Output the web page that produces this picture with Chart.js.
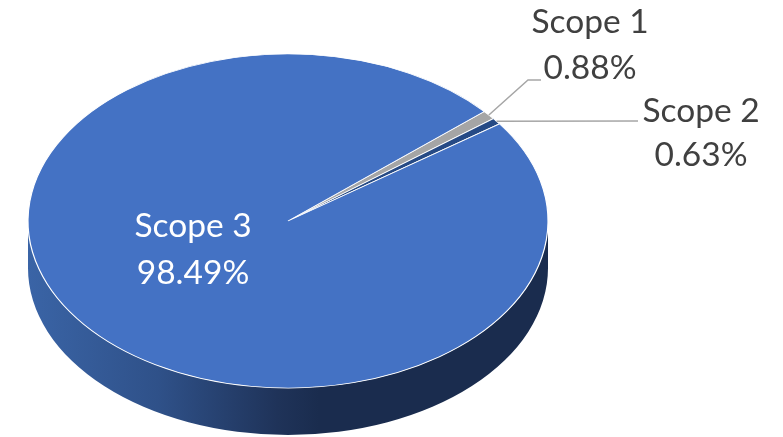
<!DOCTYPE html>
<html>
<head>
<meta charset="utf-8">
<title>Emissions by scope</title>
<style>
  html, body { margin: 0; padding: 0; background: #fff; }
  canvas { display: block; }
</style>
<script src="https://cdn.jsdelivr.net/npm/chart.js@4"></script>
</head>
<body>
<canvas id="scopePie" width="783" height="437"></canvas>
<script>
const categories = ["Scope 1", "Scope 2", "Scope 3"];
const shares = [0.88, 0.63, 98.49];
const shareLabels = ["0.88%", "0.63%", "98.49%"];
const sliceColors = ["#A5A5A5", "#264A85", "#4472C4"];

// label anchors: [centre x, first baseline, second baseline]
const labelSpots = [
  [590, 33, 79],
  [701, 122, 166],
  [193, 237, 284],
];
const labelColors = ["#404040", "#404040", "#ffffff"];
// where the leader lines bend / end, null = no leader
const leaderPaths = [
  [[528, 80], [541, 80]],
  [[638, 121]],
  null,
];

const SQUASH = 167 / 260; // tilt of the pie top
const DEPTH = 47;

const tiltPlugin = {
  id: "tilt",
  beforeDatasetsDraw(chart) {
    const ctx = chart.ctx;
    const arc = chart.getDatasetMeta(0).data[0];
    const r = arc.outerRadius;
    const ry = r * SQUASH;

    // side wall of the disc
    const grad = ctx.createLinearGradient(arc.x - r, 0, arc.x + r, 0);
    grad.addColorStop(0, "#3A64A6");
    grad.addColorStop(0.25, "#2F5189");
    grad.addColorStop(0.48, "#1F3359");
    grad.addColorStop(0.56, "#1A2C4E");
    grad.addColorStop(1, "#1A2C4E");
    ctx.save();
    ctx.beginPath();
    ctx.ellipse(arc.x, arc.y + DEPTH, r, ry, 0, 0, Math.PI);
    ctx.lineTo(arc.x - r, arc.y);
    ctx.ellipse(arc.x, arc.y, r, ry, 0, Math.PI, 0, true);
    ctx.closePath();
    ctx.fillStyle = grad;
    ctx.fill();
    ctx.restore();

    ctx.save();
    ctx.translate(arc.x, arc.y);
    ctx.scale(1, SQUASH);
    ctx.translate(-arc.x, -arc.y);
  },
  afterDatasetsDraw(chart) {
    const ctx = chart.ctx;
    ctx.restore();

    const arcs = chart.getDatasetMeta(0).data;
    // leader lines
    ctx.save();
    ctx.strokeStyle = "#A6A6A6";
    ctx.lineWidth = 1.5;
    leaderPaths.forEach((path, i) => {
      if (!path) return;
      const a = arcs[i];
      const mid = (a.startAngle + a.endAngle) / 2;
      ctx.beginPath();
      ctx.moveTo(a.x + a.outerRadius * Math.cos(mid), a.y + a.outerRadius * SQUASH * Math.sin(mid));
      path.forEach((p) => ctx.lineTo(p[0], p[1]));
      ctx.stroke();
    });
    ctx.restore();

    // labels
    ctx.save();
    ctx.font = '33.5px Lato, "Open Sans", sans-serif';
    ctx.textAlign = "center";
    ctx.textBaseline = "alphabetic";
    categories.forEach((name, i) => {
      const spot = labelSpots[i];
      ctx.fillStyle = labelColors[i];
      ctx.fillText(name, spot[0], spot[1]);
      ctx.fillText(shareLabels[i], spot[0], spot[2]);
    });
    ctx.restore();
  },
};

new Chart(document.getElementById("scopePie"), {
  type: "pie",
  data: {
    labels: categories,
    datasets: [
      {
        data: shares,
        backgroundColor: sliceColors,
        borderColor: "#ffffff",
        borderWidth: 1.2,
      },
    ],
  },
  options: {
    responsive: false,
    animation: false,
    rotation: 49,
    radius: 260,
    layout: { padding: { left: 0, right: 207, top: 5, bottom: 0 } },
    plugins: { legend: { display: false }, tooltip: { enabled: false } },
  },
  plugins: [tiltPlugin],
});
</script>
</body>
</html>
